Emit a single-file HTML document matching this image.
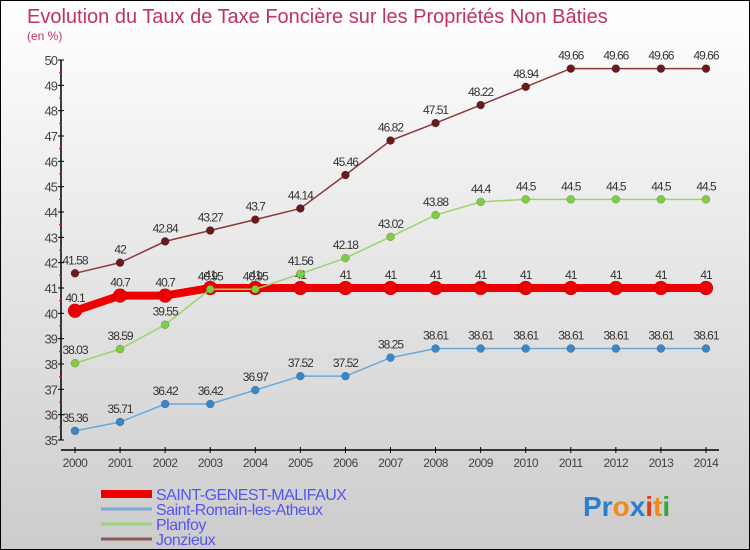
<!DOCTYPE html>
<html><head><meta charset="utf-8"><style>
body{margin:0;}
#c{width:748px;height:548px;border:1px solid #000;background:linear-gradient(#fff,#ccc);position:relative;overflow:hidden;font-family:"Liberation Sans",sans-serif;}
</style></head><body>
<div id="c">
<svg id="s" width="748" height="548" style="position:absolute;left:0;top:0">
<text x="26" y="22" font-size="20" fill="#c0335f">Evolution du Taux de Taxe Foncière sur les Propriétés Non Bâties</text>
<text x="26" y="39" font-size="12" fill="#c0335f">(en %)</text>
<g id="axes"></g><g id="series"></g><g id="legend"></g>
<text x="582" y="515" font-size="28" font-weight="bold"><tspan fill="#2a7fd0">Pr</tspan><tspan fill="#f08a1c">o</tspan><tspan fill="#2a7fd0">x</tspan><tspan fill="#e03a1c">i</tspan><tspan fill="#f08a1c">t</tspan><tspan fill="#3aa43a">i</tspan></text>
</svg>
</div>
<script>
const years=[2000,2001,2002,2003,2004,2005,2006,2007,2008,2009,2010,2011,2012,2013,2014];
const yTicks=[35,36,37,38,39,40,41,42,43,44,45,46,47,48,49,50];
const saintGenest=[40.1,40.7,40.7,41,41,41,41,41,41,41,41,41,41,41,41];
const saintRomain=[35.36,35.71,36.42,36.42,36.97,37.52,37.52,38.25,38.61,38.61,38.61,38.61,38.61,38.61,38.61];
const planfoy=[38.03,38.59,39.55,40.95,40.95,41.56,42.18,43.02,43.88,44.4,44.5,44.5,44.5,44.5,44.5];
const jonzieux=[41.58,42,42.84,43.27,43.7,44.14,45.46,46.82,47.51,48.22,48.94,49.66,49.66,49.66,49.66];
const labelsSG=["40.1","40.7","40.7","41","41","41","41","41","41","41","41","41","41","41","41"];
const NS="http://www.w3.org/2000/svg";
const X=i=>74+i*(705-74)/(years.length-1);
const Y=v=>439-(v-35)*(380/15);
function mk(t,a,p){const e=document.createElementNS(NS,t);for(const k in a)e.setAttribute(k,a[k]);p.appendChild(e);return e;}
const ax=document.getElementById('axes');
let e=mk('line',{x1:60,y1:Y(50),x2:60,y2:Y(35),stroke:'#000','stroke-width':1.5},ax);


e=mk('line',{x1:60,y1:449,x2:718,y2:449,stroke:'#000','stroke-width':1.5},ax);


yTicks.forEach(v=>{
 mk('line',{x1:57,y1:Y(v),x2:63,y2:Y(v),stroke:'#000'},ax);
 if(v<50)mk('line',{x1:58,y1:Y(v+0.5),x2:61,y2:Y(v+0.5),stroke:'#f00'},ax);
 const t=mk('text',{x:56,y:Y(v)+5,'text-anchor':'end','font-size':13,fill:'#444','letter-spacing':'-1'},ax);t.textContent=v;
 
 
});
years.forEach((y,i)=>{
 mk('line',{x1:X(i),y1:446,x2:X(i),y2:452,stroke:'#000'},ax);
 const t=mk('text',{x:X(i),y:466,'text-anchor':'middle','font-size':12,fill:'#444','letter-spacing':'-0.5'},ax);t.textContent=y;
 
 
});
const sg=document.getElementById('series');
function series(data,color,dot,w,r,name,labels){
 const g=mk('g',{},sg);
 
 
 mk('polyline',{points:data.map((v,i)=>X(i)+','+Y(v)).join(' '),fill:'none',stroke:color,'stroke-width':w},g);
 data.forEach((v,i)=>{
  const c=mk('circle',{cx:X(i),cy:Y(v),r:r,fill:dot,stroke:'rgba(0,0,0,0.3)','stroke-width':0.5},g);
  
  
  const t=mk('text',{x:X(i),y:Y(v)-9,'text-anchor':'middle','font-size':12,fill:'#333','letter-spacing':'-1'},g);
  t.textContent=labels?labels[i]:String(v);
  
  
 });
}
series(saintGenest,'#ee0000','#ee0000',8,7,'series-saint-genest',labelsSG);
series(saintRomain,'#6aa8d8','#3a87c8',1.5,4,'series-saint-romain');
series(planfoy,'#9ad46a','#80cc44',1.5,4,'series-planfoy');
series(jonzieux,'#8a3a3a','#6a1a1a',1.5,4,'series-jonzieux');
const lg=document.getElementById('legend');
[['SAINT-GENEST-MALIFAUX','#ee0000',8],['Saint-Romain-les-Atheux','#7aaad0',3],['Planfoy','#9ad47a',3],['Jonzieux','#8a5a5a',3]].forEach((d,i)=>{
 const yy=493+i*15;
 const g=mk('g',{},lg);
 
 
 mk('line',{x1:100,y1:yy,x2:151,y2:yy,stroke:d[1],'stroke-width':d[2]},g);
 const t=mk('text',{x:155,y:yy+6,'font-size':16,fill:'#5555ee','letter-spacing':'-0.5'},g);t.textContent=d[0];
});
</script>
</body></html>
